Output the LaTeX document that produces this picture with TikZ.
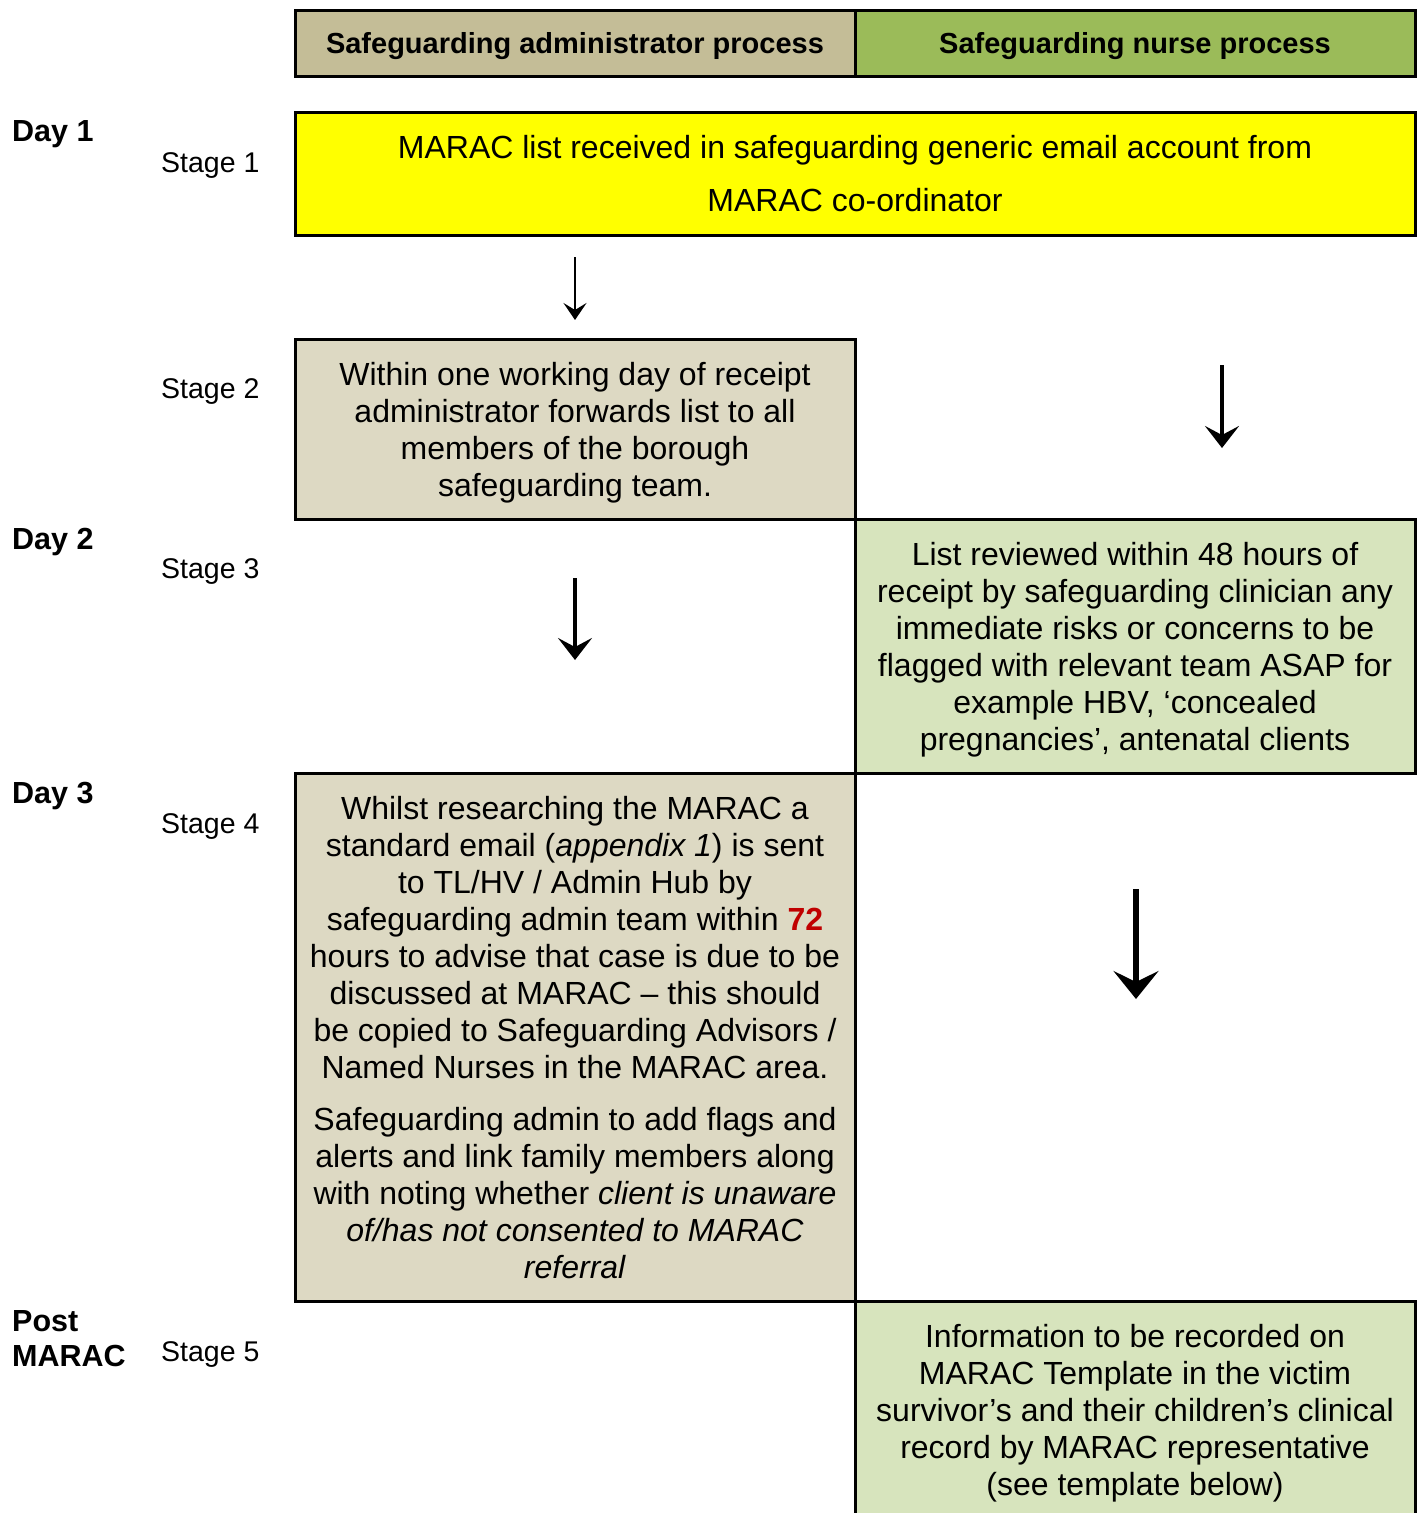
\documentclass[tikz,border=0pt]{standalone}
\usepackage{fontspec}
\setmainfont{Liberation Sans}
\usetikzlibrary{arrows.meta}

\definecolor{hdradmin}{HTML}{C4BD97}
\definecolor{hdrnurse}{HTML}{9BBB59}
\definecolor{adminfill}{HTML}{DDD9C3}
\definecolor{nursefill}{HTML}{D7E4BD}
\definecolor{alertred}{HTML}{C00000}
\definecolor{brightyellow}{HTML}{FFFF00}

\newcommand{\bodyfont}{\fontsize{32}{37}\selectfont}
\newcommand{\headfont}{\fontsize{29}{34}\selectfont\bfseries}
\newcommand{\dayfont}{\fontsize{30.5}{35}\selectfont\bfseries}
\newcommand{\stagefont}{\fontsize{28.5}{33}\selectfont}

\begin{document}
\begin{tikzpicture}[x=1pt,y=-1pt,
  box/.style={draw=black, line width=3pt, inner sep=0pt, align=center, text depth=0pt, font=\bodyfont},
  header/.style={box, font=\headfont, minimum width=560pt, minimum height=66pt},
  daylabel/.style={anchor=base west, inner sep=0pt, font=\dayfont},
  stagelabel/.style={anchor=base west, inner sep=0pt, font=\stagefont},
  flow/.style={line width=4.3pt, -{Stealth[length=22pt, width=34pt, inset=9pt]}},
  thinflow/.style={line width=2.6pt, -{Stealth[length=17pt, width=23pt, inset=7pt]}},
  boldflow/.style={line width=6pt, -{Stealth[length=28pt, width=45pt, inset=11pt]}}
]
\clip (0,0) rectangle (1422,1513);

% column headers
\node[header, fill=hdradmin] (hadmin) at (575,43) {Safeguarding administrator process};
\node[header, fill=hdrnurse] (hnurse) at (1135,43) {Safeguarding nurse process};

% day and stage labels
\node[daylabel] (day1) at (12,141) {Day 1};
\node[stagelabel] (st1) at (161,172) {Stage 1};
\node[stagelabel] (st2) at (161,398) {Stage 2};
\node[daylabel] (day2) at (12,549) {Day 2};
\node[stagelabel] (st3) at (161,578) {Stage 3};
\node[daylabel] (day3) at (12,803) {Day 3};
\node[stagelabel] (st4) at (161,833) {Stage 4};
\node[daylabel] (post1) at (12,1331) {Post};
\node[daylabel] (post2) at (12,1366) {MARAC};
\node[stagelabel] (st5) at (161,1361) {Stage 5};

% stage 1
\node[box, fill=brightyellow, minimum width=1120pt, minimum height=123pt,
      font=\fontsize{32}{53}\selectfont] (s1) at (855,173.5)
  {MARAC list received in safeguarding generic email account from\\
   MARAC co-ordinator};

% stage 2
\node[box, fill=adminfill, minimum width=560pt, minimum height=180pt] (s2) at (575,429)
  {Within one working day of receipt\\
   administrator forwards list to all\\
   members of the borough\\
   safeguarding team.};

% stage 3
\node[box, fill=nursefill, minimum width=560pt, minimum height=254pt] (s3) at (1135,646)
  {List reviewed within 48 hours of\\
   receipt by safeguarding clinician any\\
   immediate risks or concerns to be\\
   flagged with relevant team ASAP for\\
   example HBV, ‘concealed\\
   pregnancies’, antenatal clients};

% stage 4
\node[box, fill=adminfill, minimum width=560pt, minimum height=528pt] (s4) at (575,1037)
  {Whilst researching the MARAC a\\
   standard email (\textit{appendix 1}) is sent\\
   to TL/HV / Admin Hub by\\
   safeguarding admin team within \textbf{\color{alertred}72}\\
   hours to advise that case is due to be\\
   discussed at MARAC – this should\\
   be copied to Safeguarding Advisors /\\
   Named Nurses in the MARAC area.\\[15pt]
   Safeguarding admin to add flags and\\
   alerts and link family members along\\
   with noting whether \textit{client is unaware}\\
   \textit{of/has not consented to MARAC}\\
   \textit{referral}};

% stage 5 (runs on past the lower edge)
\node[box, fill=nursefill, minimum width=560pt, minimum height=240pt] (s5) at (1135,1421) {};
\node[align=center, inner sep=0pt, text depth=0pt, font=\bodyfont] (s5text) at (1135,1410)
  {Information to be recorded on\\
   MARAC Template in the victim\\
   survivor’s and their children’s clinical\\
   record by MARAC representative\\
   (see template below)};

% flow arrows
\coordinate (a1s) at (575,257);  \coordinate (a1e) at (575,320);
\coordinate (a2s) at (1222,365); \coordinate (a2e) at (1222,448);
\coordinate (a3s) at (575,578);  \coordinate (a3e) at (575,660);
\coordinate (a4s) at (1136,889); \coordinate (a4e) at (1136,999);
\draw[thinflow] (a1s) -- (a1e);
\draw[flow] (a2s) -- (a2e);
\draw[flow] (a3s) -- (a3e);
\draw[boldflow] (a4s) -- (a4e);
\end{tikzpicture}
\end{document}
